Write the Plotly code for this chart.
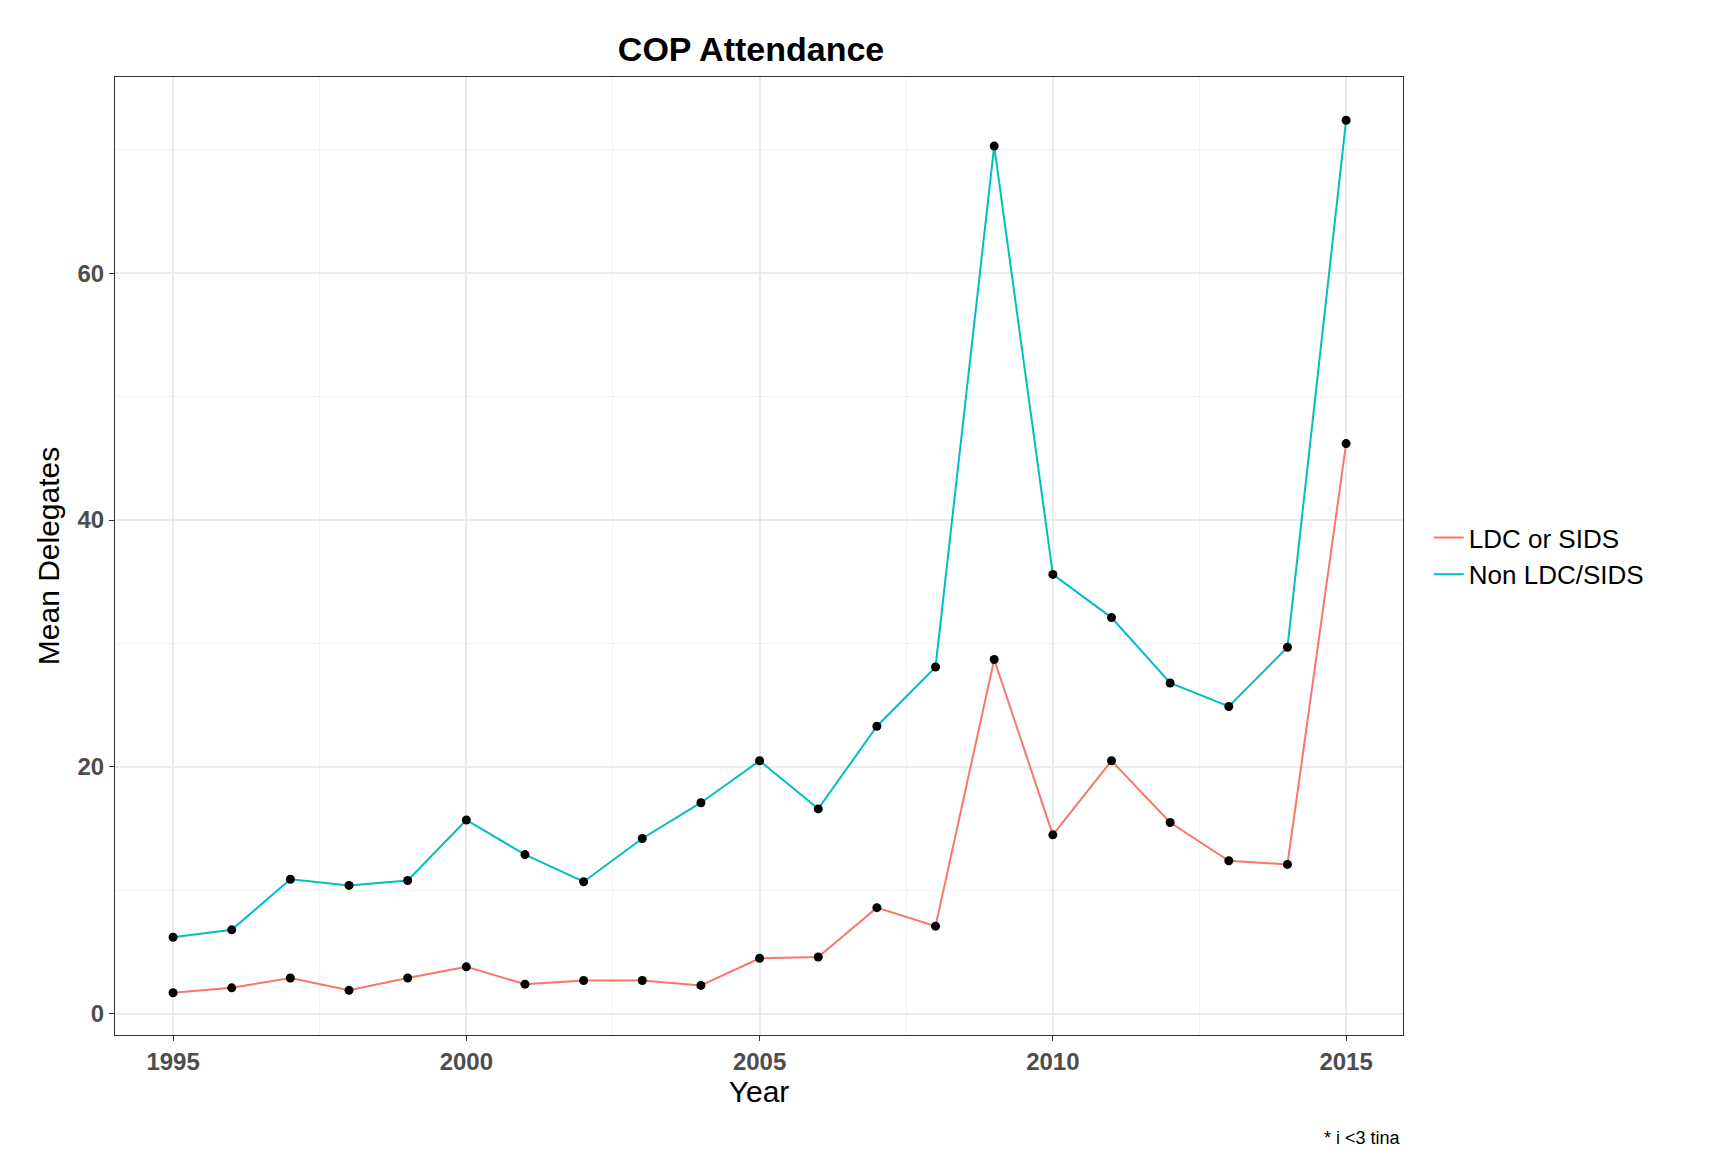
import plotly.graph_objects as go

years = list(range(1995, 2016))
non_ldc = [6.2, 6.8, 10.9, 10.4, 10.8, 15.7, 12.9, 10.7, 14.2, 17.1, 20.5, 16.6,
           23.3, 28.1, 70.3, 35.6, 32.1, 26.8, 24.9, 29.7, 72.4]
ldc = [1.7, 2.1, 2.9, 1.9, 2.9, 3.8, 2.4, 2.7, 2.7, 2.3, 4.5, 4.6,
       8.6, 7.1, 28.7, 14.5, 20.5, 15.5, 12.4, 12.1, 46.2]
x_ticks = [1995, 2000, 2005, 2010, 2015]
y_ticks = [0, 20, 40, 60]

fig = go.Figure()
fig.add_trace(go.Scatter(x=years, y=ldc, name="LDC or SIDS", mode="lines",
                         line=dict(color="#F8766D", width=2)))
fig.add_trace(go.Scatter(x=years, y=non_ldc, name="Non LDC/SIDS", mode="lines",
                         line=dict(color="#00BFC4", width=2)))
for s in (ldc, non_ldc):
    fig.add_trace(go.Scatter(x=years, y=s, mode="markers", showlegend=False,
                             marker=dict(color="black", size=9)))

axis_common = dict(showline=True, linecolor="#333333", mirror=True, linewidth=1,
                   gridcolor="#EBEBEB", gridwidth=2, zeroline=False, ticks="outside",
                   tickcolor="#333333", ticklen=5,
                   tickfont=dict(family="Liberation Sans", size=24, color="#4D4D4D"),
                   minor=dict(showgrid=True, gridcolor="#F2F2F2", gridwidth=1))
fig.update_xaxes(range=[1994.01, 2015.97], tickvals=x_ticks,
                 ticktext=[f"<b>{v}</b>" for v in x_ticks],
                 minor_dtick=2.5, minor_tick0=1997.5,
                 title=dict(text="Year", font=dict(family="Liberation Sans", size=30, color="black"), standoff=2),
                 **axis_common)
fig.update_yaxes(range=[-1.72, 75.9], tickvals=y_ticks,
                 ticktext=[f"<b>{v}</b>" for v in y_ticks],
                 minor_dtick=10, minor_tick0=10,
                 title=dict(text="Mean Delegates", font=dict(family="Liberation Sans", size=30, color="black"), standoff=8),
                 **axis_common)
fig.update_layout(
    width=1728, height=1152, plot_bgcolor="white", paper_bgcolor="white",
    margin=dict(l=107, r=333, t=69, b=125),
    title=dict(text="<b>COP Attendance</b>", x=0.43, xanchor="center", y=0.975,
               font=dict(family="Liberation Sans", size=34, color="black")),
    legend=dict(x=1.02, y=0.5, yanchor="middle",
                font=dict(family="Liberation Sans", size=26, color="black")),
    font=dict(family="Liberation Sans"),
)
fig.add_annotation(text="* i <3 tina", xref="paper", yref="paper", x=1, y=-0.095,
                   xanchor="right", yanchor="top", showarrow=False,
                   font=dict(family="Liberation Sans", size=18, color="black"))
fig.write_html("out.html")
